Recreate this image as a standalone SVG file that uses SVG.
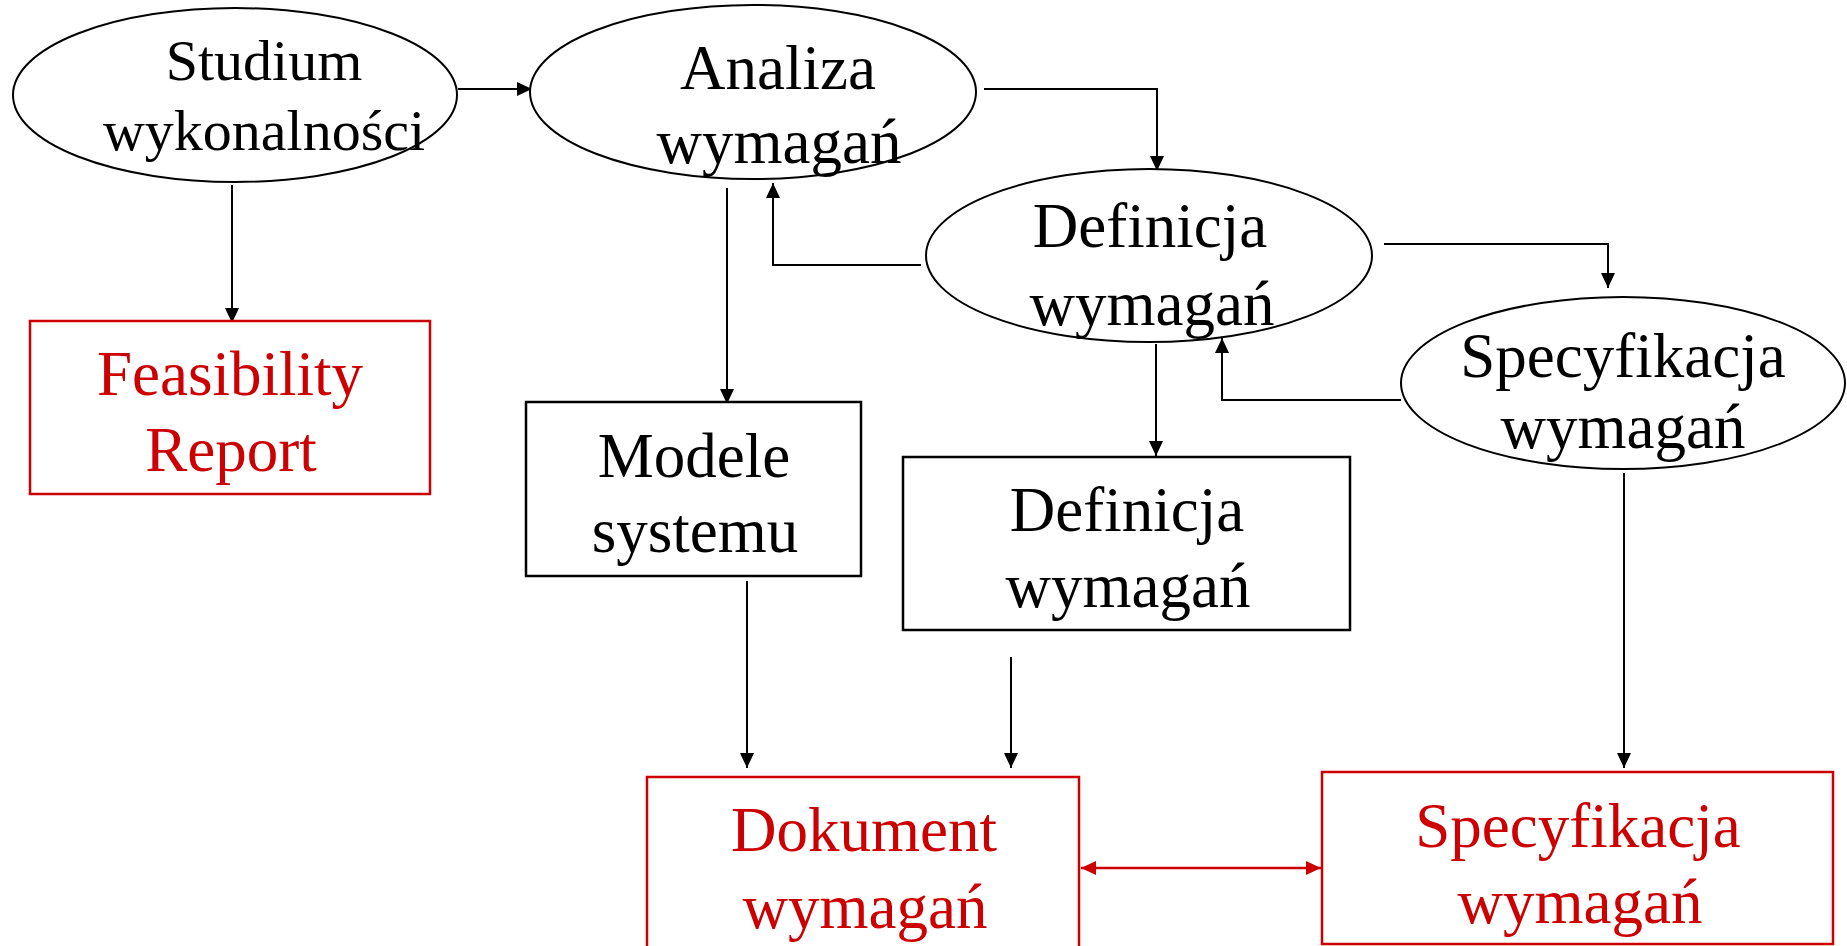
<svg xmlns="http://www.w3.org/2000/svg" width="1847" height="946" viewBox="0 0 1847 946">
<style>
.bg{fill:#ffffff}
.ell{fill:#ffffff;stroke:#000000;stroke-width:2}
.box{fill:#ffffff;stroke:#000000;stroke-width:2.5}
.rbox{fill:#ffffff;stroke:#cc0000;stroke-width:2.5}
.t{font-family:"Liberation Serif","Times New Roman",serif;font-size:63px;text-anchor:middle;fill:#000000}
.ts{font-size:58px}
.r{fill:#cc0000}
.c{fill:none;stroke:#000000;stroke-width:2}
.cr{fill:none;stroke:#cc0000;stroke-width:2.5}
</style>
<defs>
<marker id="ah" markerUnits="userSpaceOnUse" markerWidth="16" markerHeight="16" viewBox="0 0 16 16" refX="15" refY="8" orient="auto">
<path d="M0,1 L15,8 L0,15 Z" fill="#000000"/>
</marker>
<marker id="ahr" markerUnits="userSpaceOnUse" markerWidth="16" markerHeight="16" viewBox="0 0 16 16" refX="15" refY="8" orient="auto-start-reverse">
<path d="M0,1 L15,8 L0,15 Z" fill="#cc0000"/>
</marker>
</defs>
<rect class="bg" x="0" y="0" width="1847" height="946"/>

<g id="connectors">
<path class="c" d="M458,89 H532" marker-end="url(#ah)"/>
<path class="c" d="M232,185 V323" marker-end="url(#ah)"/>
<path class="c" d="M984,89 H1157 V171" marker-end="url(#ah)"/>
<path class="c" d="M921,265 H773 V183" marker-end="url(#ah)"/>
<path class="c" d="M727,188 V404" marker-end="url(#ah)"/>
<path class="c" d="M1156,344 V456" marker-end="url(#ah)"/>
<path class="c" d="M1384,244 H1608 V288" marker-end="url(#ah)"/>
<path class="c" d="M1401,400 H1222 V338" marker-end="url(#ah)"/>
<path class="c" d="M747,581 V768" marker-end="url(#ah)"/>
<path class="c" d="M1011,657 V768" marker-end="url(#ah)"/>
<path class="c" d="M1624,473 V768" marker-end="url(#ah)"/>
<path class="cr" d="M1081,868 H1321" marker-start="url(#ahr)" marker-end="url(#ahr)"/>
</g>

<g id="studium">
<ellipse class="ell" cx="235" cy="95" rx="222" ry="87"/>
<text class="t ts" x="264" y="80">Studium</text>
<text class="t ts" x="264" y="150">wykonalności</text>
</g>

<g id="analiza">
<ellipse class="ell" cx="753" cy="92" rx="223" ry="87"/>
<text class="t" x="778" y="89">Analiza</text>
<text class="t" x="779" y="163">wymagań</text>
</g>

<g id="definicja-ellipse">
<ellipse class="ell" cx="1149" cy="255.5" rx="223" ry="86.5"/>
<text class="t" x="1150" y="247">Definicja</text>
<text class="t" x="1152" y="325">wymagań</text>
</g>

<g id="specyfikacja-ellipse">
<ellipse class="ell" cx="1623" cy="383" rx="222" ry="86"/>
<text class="t" x="1623" y="377">Specyfikacja</text>
<text class="t" x="1623" y="448">wymagań</text>
</g>

<g id="feasibility">
<rect class="rbox" x="30" y="321" width="400" height="173"/>
<text class="t r" x="230" y="395">Feasibility</text>
<text class="t r" x="231" y="471">Report</text>
</g>

<g id="modele">
<rect class="box" x="526" y="402" width="335" height="174"/>
<text class="t" x="694" y="477">Modele</text>
<text class="t" x="695" y="552">systemu</text>
</g>

<g id="definicja-box">
<rect class="box" x="903" y="457" width="447" height="173"/>
<text class="t" x="1127" y="531">Definicja</text>
<text class="t" x="1128" y="607">wymagań</text>
</g>

<g id="dokument">
<rect class="rbox" x="647" y="777" width="432" height="200"/>
<text class="t r" x="864" y="851">Dokument</text>
<text class="t r" x="865" y="928">wymagań</text>
</g>

<g id="specyfikacja-box">
<rect class="rbox" x="1322" y="772" width="511" height="172"/>
<text class="t r" x="1578" y="847">Specyfikacja</text>
<text class="t r" x="1580" y="923">wymagań</text>
</g>
</svg>
